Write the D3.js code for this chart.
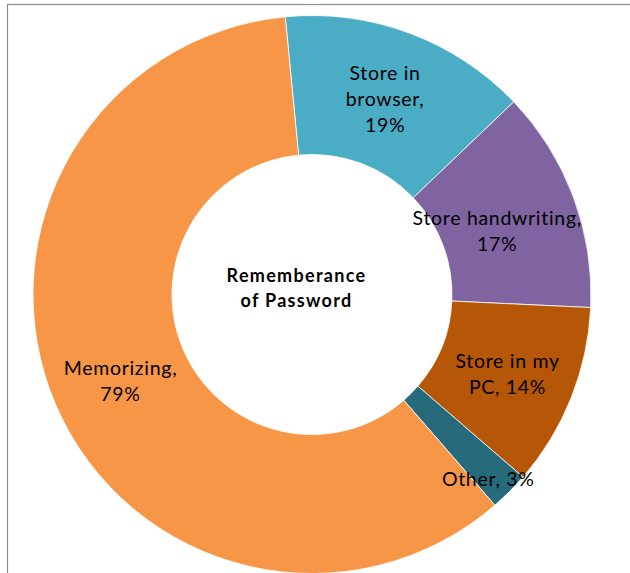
<!DOCTYPE html>
<html>
<head>
<meta charset="utf-8">
<script src="https://cdn.jsdelivr.net/npm/d3@7/dist/d3.min.js"></script>
<style>
  html, body { margin: 0; padding: 0; background: #fff; }
  svg { display: block; }
  text { font-family: Lato, "Open Sans", sans-serif; fill: #000; }
</style>
</head>
<body>
<svg id="chart" width="630" height="573"></svg>
<script>
// Ways of remembering a password (multiple answers allowed)
const categories = ["Store in browser", "Store handwriting", "Store in my PC", "Other", "Memorizing"];
const values = [19, 17, 14, 3, 79];
const labelLines = [
  ["Store in", "browser,", "19%"],
  ["Store handwriting,", "17%"],
  ["Store in my", "PC, 14%"],
  ["Other, 3%"],
  ["Memorizing,", "79%"]
];
const centerTitle = ["Rememberance", "of Password"];

const colors = ["#4BACC6", "#8064A2", "#B65708", "#276A7C", "#F79646"];
// label nudges away from the slice centroid (layout only)
const labelNudge = [[0, 1.5], [-11, 10], [1, 2], [28, 37], [1, 4]];

const svg = d3.select("#chart");
const cx = 312, cy = 294.5, rOuter = 279, rInner = 140;
const startDeg = -5.5;

// chart frame
svg.append("rect")
  .attr("x", 7.5).attr("y", 4.5)
  .attr("width", 700).attr("height", 700)
  .attr("fill", "none").attr("stroke", "#8c8c8c").attr("stroke-width", 1.2);

const color = d3.scaleOrdinal().domain(categories).range(colors);

const pie = d3.pie()
  .sort(null)
  .value(d => d.value)
  .startAngle(startDeg * Math.PI / 180)
  .endAngle((startDeg + 360) * Math.PI / 180);

const data = categories.map((c, i) => ({ name: c, value: values[i], lines: labelLines[i], nudge: labelNudge[i] }));
const arcs = pie(data);

const arc = d3.arc().innerRadius(rInner).outerRadius(rOuter);

const g = svg.append("g").attr("transform", `translate(${cx},${cy})`);

g.selectAll("path.slice")
  .data(arcs)
  .join("path")
  .attr("class", "slice")
  .attr("d", arc)
  .attr("fill", d => color(d.data.name))
  .attr("stroke", "#ffffff")
  .attr("stroke-width", 0.8);

const fontSize = 19.5, pitch = 26, capHalf = 6.8;

const labels = g.selectAll("text.lbl")
  .data(arcs)
  .join("text")
  .attr("class", "lbl")
  .attr("text-anchor", "middle")
  .style("font-size", fontSize + "px")
  .style("letter-spacing", "0.7px");

labels.each(function(d) {
  const [x, y] = arc.centroid(d);
  const px = x + d.data.nudge[0], py = y + d.data.nudge[1];
  const n = d.data.lines.length;
  d3.select(this).selectAll("tspan")
    .data(d.data.lines)
    .join("tspan")
    .attr("x", px)
    .attr("y", (t, i) => py + (i - (n - 1) / 2) * pitch + capHalf)
    .text(t => t);
});

// title in the hole
g.append("text")
  .attr("text-anchor", "middle")
  .style("font-size", "18px")
  .style("font-weight", "bold")
  .style("letter-spacing", "1.3px")
  .selectAll("tspan")
  .data(centerTitle)
  .join("tspan")
  .attr("x", -15.5)
  .attr("y", (t, i) => -12.8 + i * 25.6)
  .text(t => t);
</script>
</body>
</html>
